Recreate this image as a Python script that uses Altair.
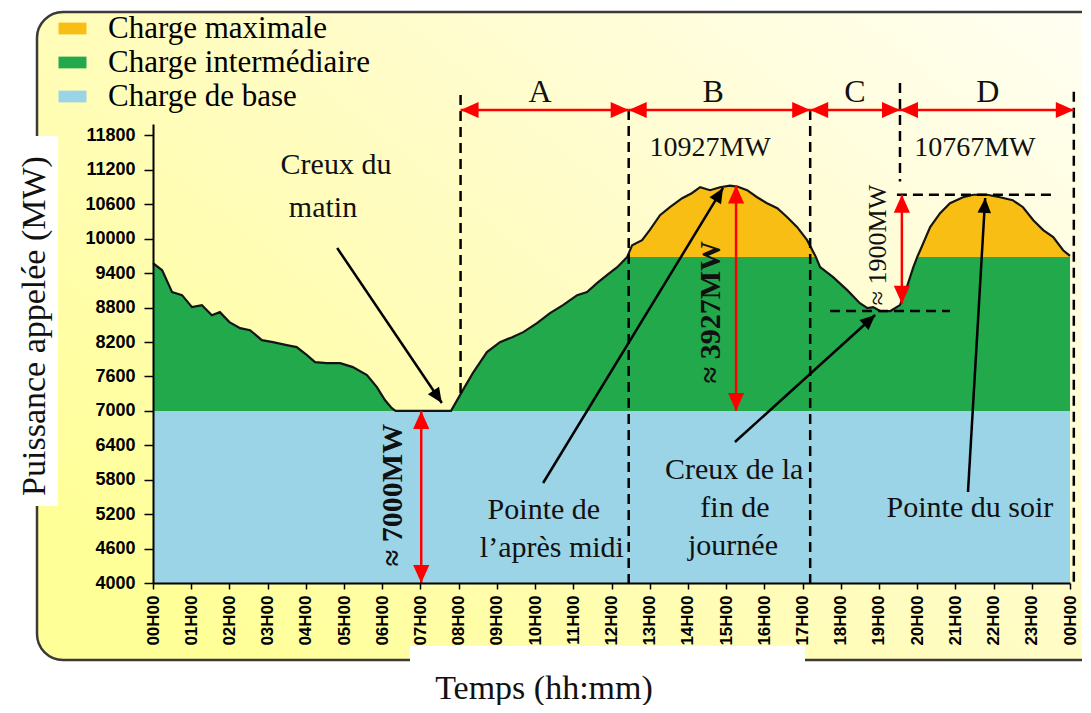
import math
import altair as alt
import pandas as pd

# ---------------- data ----------------
hours = [0.0, 0.24, 0.5, 0.76, 1.02, 1.28, 1.54, 1.75, 2.0, 2.28, 2.54, 2.85, 3.14, 3.5, 3.76,
         4.03, 4.24, 4.55, 4.9, 5.23, 5.6, 5.86, 6.07, 6.25, 6.35, 7.8, 8.11, 8.37, 8.74, 9.08,
         9.4, 9.69, 10.05, 10.39, 10.73, 11.1, 11.36, 11.62, 11.88, 12.15, 12.41, 12.54, 12.8,
         13.0, 13.27, 13.53, 13.85, 14.1, 14.32, 14.58, 14.84, 15.1, 15.29, 15.55, 15.81, 16.07,
         16.34, 16.6, 16.86, 17.12, 17.35, 17.46, 17.8, 18.17, 18.5, 18.7, 18.85, 19.03, 19.3,
         19.55, 19.73, 19.9, 20.0, 20.08, 20.34, 20.6, 20.86, 21.2, 21.47, 21.83, 22.17, 22.5,
         22.77, 23.04, 23.3, 23.56, 23.82, 24.0]
load_mw = [9575, 9450, 9070, 9017, 8808, 8843, 8668, 8721, 8547, 8442, 8407, 8233, 8198, 8146,
           8111, 7971, 7850, 7832, 7832, 7763, 7623, 7414, 7188, 7048, 7000, 7000, 7362, 7658,
           8024, 8198, 8285, 8372, 8529, 8703, 8843, 9017, 9070, 9226, 9365, 9505, 9680, 9888,
           9975, 10150, 10411, 10550, 10707, 10794, 10898, 10846, 10898, 10927, 10910, 10846,
           10724, 10620, 10533, 10376, 10202, 9975, 9680, 9505, 9330, 9104, 8877, 8790, 8808,
           8740, 8740, 8843, 9156, 9505, 9680, 9800, 10202, 10446, 10620, 10724, 10767, 10767,
           10724, 10672, 10550, 10324, 10150, 10028, 9800, 9700]

floor_level = 4000
base_level = 7000
inter_level = 9680

layer_names = ["Charge maximale", "Charge intermédiaire", "Charge de base"]
layer_colors = ["#F8BE14", "#22A94B", "#9BD4E6"]

hour_ticks = list(range(25))
hour_labels = ["00H00", "01H00", "02H00", "03H00", "04H00", "05H00", "06H00", "07H00", "08H00",
               "09H00", "10H00", "11H00", "12H00", "13H00", "14H00", "15H00", "16H00", "17H00",
               "18H00", "19H00", "20H00", "21H00", "22H00", "23H00", "00H00"]
mw_ticks = [4000, 4600, 5200, 5800, 6400, 7000, 7600, 8200, 8800, 9400, 10000, 10600, 11200, 11800]

# section boundaries and annotations
sect_t = [8.05, 12.45, 17.2, 19.55, 24.1]
sect_top = [12505, 12244, 12244, 12715, 12560]
sect_bot = [7280, 4000, 4000, 11000, 4000]
sect_arrow_v = 12244
letters = ["A", "B", "C", "D"]
letter_t = [10.13, 14.66, 18.37, 21.85]
letter_v = [12558, 12558, 12558, 12558]

hdash_t1 = [19.47, 17.72]
hdash_t2 = [23.55, 20.86]
hdash_v = [10767, 8740]

redv_t = [7.02, 15.26, 19.6]
redv_top = [7000, 10927, 10767]
redv_bot = [4000, 7000, 8867]

blk_t1 = [4.82, 10.21, 15.23, 21.33]
blk_v1 = [9839, 5743, 6458, 5586]
blk_t2 = [7.56, 14.92, 18.9, 21.78]
blk_v2 = [7137, 10885, 8671, 10711]

ann_text = ["Creux du", "matin", "Pointe de", "l’après midi", "Creux de la", "fin de",
            "journée", "Pointe du soir"]
ann_t = [4.79, 4.45, 10.23, 10.44, 15.21, 15.23, 15.18, 21.38]
ann_v = [11285, 10536, 5272, 4610, 5969, 5307, 4645, 5307]

peak_text = ["10927MW", "10767MW"]
peak_t = [14.58, 21.51]
peak_v = [11582, 11582]

rotb_text = ["≈ 7000MW", "≈ 3927MW"]
rotb_t = [6.28, 14.6]
rotb_v = [5534, 8723]
rot_text = ["≈ 1900MW"]
rot_t = [18.98]
rot_v = [9891]

# ---------------- layout ----------------
W, H = 917, 459
PX_H = W / 24.0
PX_MW = H / 8000.0
SERIF = "Liberation Serif"
SANS = "Liberation Sans"
HEAD = "M0,0L-0.45,1L0.45,1Z"

X_SCALE = alt.Scale(domain=[0, 24], nice=False, zero=False)
Y_SCALE = alt.Scale(domain=[4000, 12000], nice=False, zero=False)
label_expr = "[" + ",".join("'%s'" % s for s in hour_labels) + "][datum.value]"

x_axis = alt.Axis(values=hour_ticks, labelExpr=label_expr, labelAngle=270, labelFont=SANS,
                  labelFontWeight="bold", labelFontSize=17, labelColor="black", labelPadding=6,
                  labelOverlap=False, tickSize=6, tickColor="black", tickWidth=1.5,
                  domainColor="black", domainWidth=2, grid=False, title=None, zindex=1)
y_axis = alt.Axis(values=mw_ticks, format="d", labelFont=SANS, labelFontWeight="bold",
                  labelFontSize=18, labelColor="black", labelPadding=9, tickSize=9,
                  tickColor="black", tickWidth=1.5, domainColor="black", domainWidth=2,
                  grid=False, title=None, zindex=1)


def X(f):
    return alt.X(f, type="quantitative", scale=X_SCALE, axis=x_axis)


def Y(f):
    return alt.Y(f, type="quantitative", scale=Y_SCALE, axis=y_axis)


def head_angle(t0, v0, t1, v1):
    dx = (t1 - t0) * PX_H
    dy = -(v1 - v0) * PX_MW
    return math.degrees(math.atan2(dx, -dy)) % 360


# ---------------- tables ----------------
curve_df = pd.DataFrame({"t": hours, "v": load_mw})
rows = []
for t, v in zip(hours, load_mw):
    rows.append({"t": t, "lo": floor_level, "hi": base_level, "layer": layer_names[2]})
    rows.append({"t": t, "lo": base_level, "hi": min(v, inter_level), "layer": layer_names[1]})
    rows.append({"t": t, "lo": inter_level, "hi": max(v, inter_level), "layer": layer_names[0]})
area_df = pd.DataFrame(rows)

vdash_df = pd.DataFrame({"t": sect_t, "top": sect_top, "bot": sect_bot})
hdash_df = pd.DataFrame({"t1": hdash_t1, "t2": hdash_t2, "v": hdash_v})

red_lines, red_heads = [], []
for a, b in zip(sect_t[:-1], sect_t[1:]):
    red_lines.append({"t1": a, "v1": sect_arrow_v, "t2": b, "v2": sect_arrow_v})
    red_heads.append({"t": a, "v": sect_arrow_v, "ang": head_angle(b, 0, a, 0)})
    red_heads.append({"t": b, "v": sect_arrow_v, "ang": head_angle(a, 0, b, 0)})
for t, top, bot in zip(redv_t, redv_top, redv_bot):
    red_lines.append({"t1": t, "v1": top, "t2": t, "v2": bot})
    red_heads.append({"t": t, "v": top, "ang": head_angle(t, bot, t, top)})
    red_heads.append({"t": t, "v": bot, "ang": head_angle(t, top, t, bot)})
red_lines_df = pd.DataFrame(red_lines)
red_heads_df = pd.DataFrame(red_heads)

blk_lines_df = pd.DataFrame({"t1": blk_t1, "v1": blk_v1, "t2": blk_t2, "v2": blk_v2})
blk_heads_df = pd.DataFrame({
    "t": blk_t2, "v": blk_v2,
    "ang": [head_angle(a, b, c, d) for a, b, c, d in zip(blk_t1, blk_v1, blk_t2, blk_v2)]})

ann_df = pd.DataFrame({"t": ann_t, "v": ann_v, "text": ann_text})
peak_df = pd.DataFrame({"t": peak_t, "v": peak_v, "text": peak_text})
letter_df = pd.DataFrame({"t": letter_t, "v": letter_v, "text": letters})
rotb_df = pd.DataFrame({"t": rotb_t, "v": rotb_v, "text": rotb_text})
rot_df = pd.DataFrame({"t": rot_t, "v": rot_v, "text": rot_text})
one = pd.DataFrame({"k": [0]})

# ---------------- layers ----------------
gradient = {"gradient": "linear", "x1": 0, "y1": 0.75, "x2": 1, "y2": 0,
            "stops": [{"offset": 0, "color": "#FFFF98"},
                      {"offset": 0.5, "color": "#FFFCC6"},
                      {"offset": 1, "color": "#FFFFF4"}]}
bg = alt.Chart(one).mark_rect(fill=gradient, stroke="#3a3a3a", strokeWidth=2.5,
                              cornerRadius=26).encode(
    x=alt.value(-116), x2=alt.value(960), y=alt.value(-112), y2=alt.value(536))
white_left = alt.Chart(one).mark_rect(fill="white").encode(
    x=alt.value(-146), x2=alt.value(-95), y=alt.value(12), y2=alt.value(382))
white_bottom = alt.Chart(one).mark_rect(fill="white").encode(
    x=alt.value(257), x2=alt.value(652), y=alt.value(522), y2=alt.value(600))

areas = alt.Chart(area_df).mark_area(interpolate="linear", opacity=1, strokeWidth=0).encode(
    x=X("t"), y=Y("lo"), y2="hi",
    color=alt.Color("layer:N", scale=alt.Scale(domain=layer_names, range=layer_colors),
                    legend=alt.Legend(title=None, orient="none", legendX=-96, legendY=-111,
                                      symbolType="M-1,-0.42H1V0.42H-1Z", symbolSize=784,
                                      symbolStrokeWidth=0, symbolOpacity=1,
                                      labelFont=SERIF, labelFontSize=31, labelColor="black",
                                      labelLimit=600, labelOffset=20, rowPadding=2,
                                      padding=0)))
curve = alt.Chart(curve_df).mark_line(color="#151515", strokeWidth=2.2).encode(
    x=X("t"), y=Y("v"))

vdash = alt.Chart(vdash_df).mark_rule(color="black", strokeWidth=2.5, strokeDash=[10, 6]).encode(
    x=X("t"), y=Y("top"), y2="bot")
hdash = alt.Chart(hdash_df).mark_rule(color="black", strokeWidth=2.5, strokeDash=[10, 6]).encode(
    x=X("t1"), x2="t2", y=Y("v"))

red_l = alt.Chart(red_lines_df).mark_rule(color="#FF0000", strokeWidth=2.5).encode(
    x=X("t1"), x2="t2", y=Y("v1"), y2="v2")
red_h = alt.Chart(red_heads_df).mark_point(shape=HEAD, filled=True, size=1296, color="#FF0000",
                                           opacity=1, strokeWidth=0).encode(
    x=X("t"), y=Y("v"), angle=alt.Angle("ang:Q", scale=None))
blk_l = alt.Chart(blk_lines_df).mark_rule(color="black", strokeWidth=2.5).encode(
    x=X("t1"), x2="t2", y=Y("v1"), y2="v2")
blk_h = alt.Chart(blk_heads_df).mark_point(shape=HEAD, filled=True, size=900, color="black",
                                           opacity=1, strokeWidth=0).encode(
    x=X("t"), y=Y("v"), angle=alt.Angle("ang:Q", scale=None))

ann = alt.Chart(ann_df).mark_text(font=SERIF, fontSize=30, color="#111", align="center",
                                  baseline="middle").encode(x=X("t"), y=Y("v"), text="text:N")
peaks = alt.Chart(peak_df).mark_text(font=SERIF, fontSize=28, color="#111", align="center",
                                     baseline="middle").encode(x=X("t"), y=Y("v"), text="text:N")
lets = alt.Chart(letter_df).mark_text(font=SERIF, fontSize=32, color="#111", align="center",
                                      baseline="middle").encode(x=X("t"), y=Y("v"), text="text:N")
rotb = alt.Chart(rotb_df).mark_text(font=SERIF, fontSize=30, fontWeight="bold", color="#111",
                                    angle=270, align="center", baseline="middle").encode(
    x=X("t"), y=Y("v"), text="text:N")
rotn = alt.Chart(rot_df).mark_text(font=SERIF, fontSize=26, color="#111", angle=270,
                                   align="center", baseline="middle").encode(
    x=X("t"), y=Y("v"), text="text:N")

ytitle = alt.Chart(one).mark_text(text="Puissance appelée (MW)", font=SERIF, fontSize=34,
                                  color="#111", angle=270, align="center",
                                  baseline="middle").encode(x=alt.value(-118), y=alt.value(202))
xtitle = alt.Chart(one).mark_text(text="Temps (hh:mm)", font=SERIF, fontSize=34, color="#111",
                                  align="center", baseline="alphabetic").encode(
    x=alt.value(391), y=alt.value(575))

chart = alt.layer(
    bg, white_left, white_bottom, areas, curve, vdash, hdash, red_l, red_h, blk_l, blk_h,
    ann, peaks, lets, rotb, rotn, ytitle, xtitle
).properties(
    width=W, height=H,
    autosize=alt.AutoSizeParams(type="none"),
    padding={"left": 145, "top": 116, "right": 12, "bottom": 122},
).configure_view(stroke=None)

chart.save("out.html", embed_options={"renderer": "svg", "actions": False})
